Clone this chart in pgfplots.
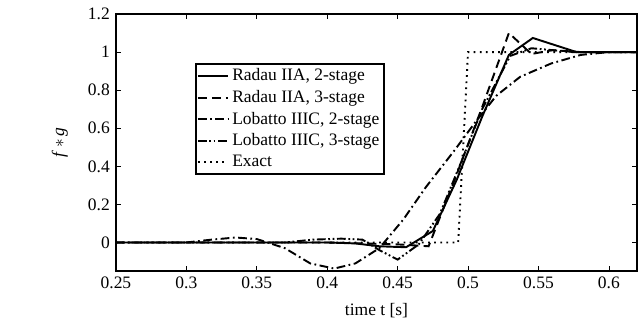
\documentclass[border=0pt]{standalone}
\usepackage{fontspec}
\setmainfont{Liberation Serif}
\usepackage{pgfplots}
\pgfplotsset{compat=1.18}
\begin{document}
\begin{tikzpicture}
\begin{axis}[
  name=ax,
  scale only axis,
  width=298pt, height=147pt,
  xmin=0.25, xmax=0.62, ymin=-0.15, ymax=1.2,
  xtick={0.25,0.3,0.35,0.4,0.45,0.5,0.55,0.6},
  ytick={0,0.2,0.4,0.6,0.8,1,1.2},
  /pgf/number format/assume math mode=true,
  ticklabel style={font=\normalsize},
  major tick length=3pt,
  tick style={line width=0.4pt, black},
  axis line style={line width=1.2pt},
  xlabel={time t [s]},
  ylabel={\textit{f}\,$*$\,\textit{g}},
  xlabel style={at={(axis description cs:0.5,-0.152)}, anchor=center},
  ylabel style={at={(axis description cs:-0.1075,0.5)}, anchor=center},
  legend style={at={(axis description cs:0.152,0.809)}, anchor=north west,
    draw=black, line width=1.1pt, legend cell align=left, font=\normalsize,
    inner sep=0.5pt, row sep=0pt},
  cycle list={{black}},
  every axis plot/.append style={line width=1.1pt, black, no markers},
]
\addplot[black, solid, no markers] coordinates {(0.25,0) (0.30,0) (0.35,0) (0.40,0) (0.42,-0.005) (0.437,-0.02) (0.456,-0.025) (0.475,0.06) (0.492,0.33) (0.51,0.66) (0.529,0.985) (0.546,1.074) (0.577,1.0) (0.62,1.0)};
\addlegendentry{Radau IIA, 2-stage}
\addplot[black, dash pattern=on 5pt off 3pt] coordinates {(0.25,0) (0.35,0) (0.40,0) (0.45,-0.01) (0.472,-0.02) (0.49,0.32) (0.51,0.71) (0.529,1.10) (0.545,0.99) (0.56,1.01) (0.58,1.0) (0.62,1.0)};
\addlegendentry{Radau IIA, 3-stage}
\addplot[black, dash pattern=on 5pt off 2pt on 1pt off 2pt] coordinates {(0.25,0) (0.30,0) (0.318,0.015) (0.335,0.026) (0.35,0.018) (0.37,-0.03) (0.388,-0.11) (0.405,-0.137) (0.42,-0.11) (0.437,-0.03) (0.454,0.12) (0.47,0.29) (0.49,0.48) (0.505,0.63) (0.52,0.77) (0.537,0.87) (0.559,0.94) (0.58,0.985) (0.60,1.0) (0.62,1.0)};
\addlegendentry{Lobatto IIIC, 2-stage}
\addplot[black, dash pattern=on 5pt off 1.5pt on 1pt off 1.5pt on 1pt off 1.5pt] coordinates {(0.25,0) (0.37,0) (0.39,0.015) (0.41,0.02) (0.425,0.015) (0.437,-0.04) (0.45,-0.09) (0.465,-0.01) (0.48,0.15) (0.495,0.42) (0.51,0.7) (0.53,0.98) (0.545,1.02) (0.56,1.01) (0.575,1.0) (0.62,1.0)};
\addlegendentry{Lobatto IIIC, 3-stage}
\addplot[black, dash pattern=on 1pt off 2.5pt] coordinates {(0.25,0) (0.493,0) (0.5,1) (0.62,1)};
\addlegendentry{Exact}
\end{axis}
\pgfresetboundingbox
\path[use as bounding box] ([xshift=-66.3pt,yshift=-30.9pt]ax.south west) rectangle ([xshift=3.4pt,yshift=8pt]ax.north east);
\end{tikzpicture}
\end{document}
